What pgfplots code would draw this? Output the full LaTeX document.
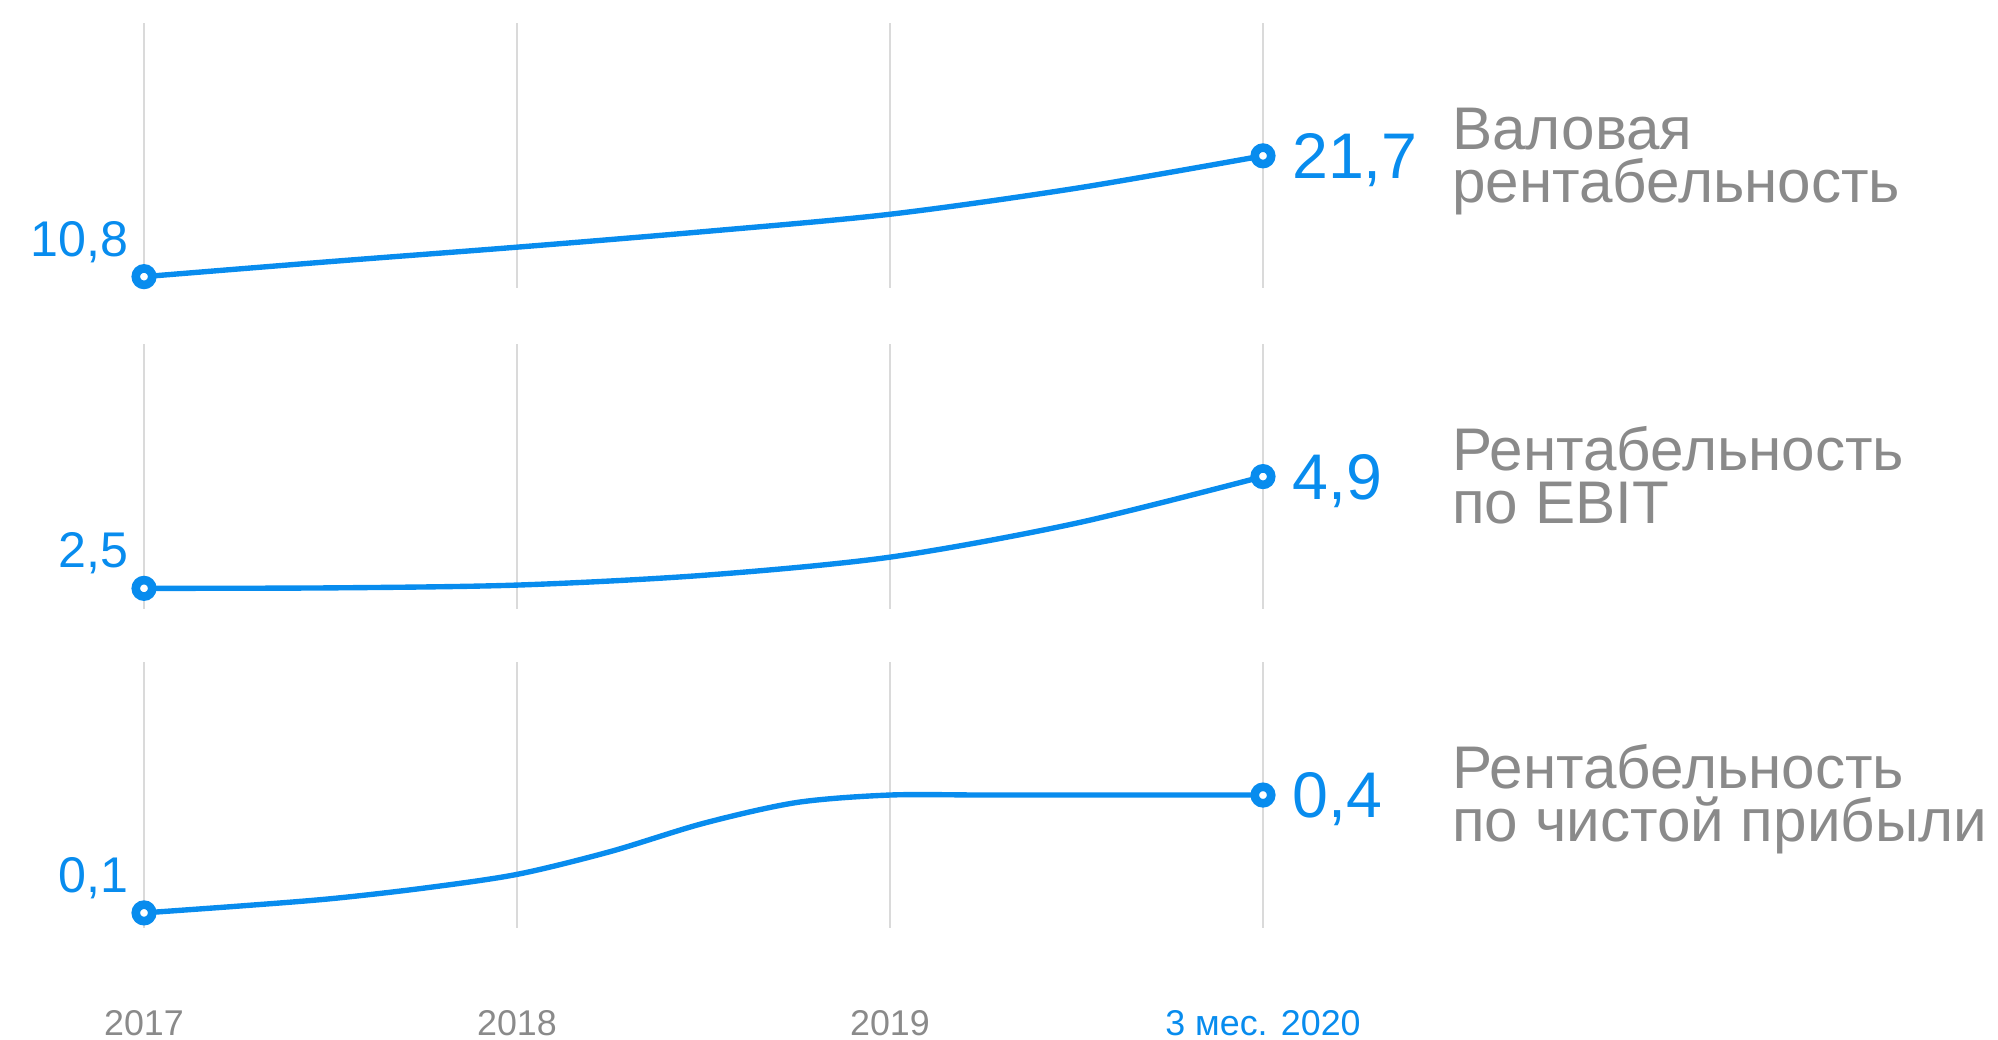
\documentclass[border=0pt]{standalone}
\usepackage{fontspec}
\setmainfont{Liberation Sans}
\usepackage{pgfplots}
\pgfplotsset{compat=1.18}

\definecolor{lineblue}{RGB}{8,140,238}
\definecolor{labgray}{RGB}{138,138,138}
\definecolor{gridgray}{RGB}{218,218,218}

\pgfplotsset{
  panel/.style={
    scale only axis, width=10.977cm, height=2.6cm,
    xmin=0, xmax=3, xtick={0,1,2,3}, xticklabels={},
    ytick=\empty, axis line style={draw=none}, major tick length=0pt,
    xmajorgrids, grid style={gridgray, line width=0.55pt},
    clip=false, anchor=south west,
  },
  curve/.style={lineblue, line width=1.5pt, smooth, no markers},
  dot/.style={only marks, mark=*, mark size=2.3pt,
    mark options={fill=white, draw=lineblue, line width=2.4pt}},
}
\tikzset{
  leftval/.style={anchor=base east, inner sep=0pt, text=lineblue,
    font=\fontsize{14}{16}\selectfont, xshift=-0.15cm, yshift=0.2cm},
  rightval/.style={anchor=base west, inner sep=0pt, text=lineblue,
    font=\fontsize{18}{20}\selectfont, xshift=0.28cm, yshift=-6.4pt},
  nameA/.style={anchor=base west, inner sep=0pt, text=labgray,
    font=\fontsize{16.8}{18}\selectfont, xshift=1.85cm, yshift=0.06cm},
  nameB/.style={anchor=base west, inner sep=0pt, text=labgray,
    font=\fontsize{16.8}{18}\selectfont, xshift=1.85cm, yshift=-0.46cm},
}

\begin{document}
\begin{tikzpicture}
\path[use as bounding box] (0,0) rectangle (19.6cm,-10.2cm);

% Валовая рентабельность
\begin{axis}[panel, at={(1.4127cm,-2.824cm)}, ymin=9.788, ymax=33.70]
\addplot[curve] coordinates {(0,10.8) (0.5,12.16) (1,13.46) (1.5,14.86) (2,16.43) (2.5,18.78) (3,21.7)};
\addplot[dot] coordinates {(0,10.8) (3,21.7)};
\node[leftval] at (axis cs:0,10.8) {10,8};
\node[rightval] at (axis cs:3,21.7) {21,7};
\node[nameA] at (axis cs:3,21.7) {Валовая};
\node[nameB] at (axis cs:3,21.7) {рентабельность};
\end{axis}

% Рентабельность по EBIT
\begin{axis}[panel, at={(1.4127cm,-5.974cm)}, ymin=2.057, ymax=7.749]
\addplot[curve] coordinates {(0,2.5) (0.5,2.51) (1,2.57) (1.5,2.78) (2,3.17) (2.5,3.90) (3,4.9)};
\addplot[dot] coordinates {(0,2.5) (3,4.9)};
\node[leftval] at (axis cs:0,2.5) {2,5};
\node[rightval] at (axis cs:3,4.9) {4,9};
\node[nameA] at (axis cs:3,4.9) {Рентабельность};
\node[nameB] at (axis cs:3,4.9) {по EBIT};
\end{axis}

% Рентабельность по чистой прибыли
\begin{axis}[panel, at={(1.4127cm,-9.099cm)}, ymin=0.0627, ymax=0.7374,
  xticklabels={2017,2018,2019,{\textcolor{lineblue}{3 мес. 2020}}},
  xticklabel style={text=labgray, anchor=base, yshift=-1.06cm,
    font=\fontsize{10}{12}\selectfont}]
\addplot[curve] coordinates {(0,0.1) (0.25,0.117) (0.5,0.136) (0.75,0.163) (1,0.198) (1.25,0.256) (1.5,0.328) (1.75,0.381) (2,0.4) (2.25,0.4) (2.5,0.4) (2.75,0.4) (3,0.4)};
\addplot[dot] coordinates {(0,0.1) (3,0.4)};
\node[leftval] at (axis cs:0,0.1) {0,1};
\node[rightval] at (axis cs:3,0.4) {0,4};
\node[nameA] at (axis cs:3,0.4) {Рентабельность};
\node[nameB] at (axis cs:3,0.4) {по чистой прибыли};
\end{axis}
\end{tikzpicture}
\end{document}
